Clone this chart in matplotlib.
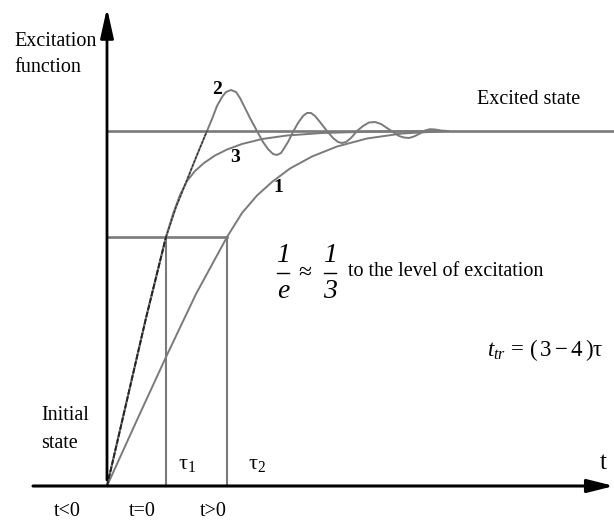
import numpy as np
import matplotlib.pyplot as plt

plt.rcParams['font.family'] = ['Liberation Serif', 'DejaVu Serif']
plt.rcParams['mathtext.fontset'] = 'custom'
plt.rcParams['mathtext.rm'] = 'Liberation Serif'
plt.rcParams['mathtext.it'] = 'Liberation Serif:italic'

# уровни возбуждения и постоянные времени
excited_level = 355
low_level = 249
tau1 = 59
tau2 = 120

# кривая 1 (апериодическая, медленная)
t1 = [0, 30, 59, 89, 120, 135, 150, 165, 183, 205, 230, 260, 295, 341]
y1 = [0, 66, 129, 192, 249, 273, 290.5, 304, 317.5, 329.5, 339.5, 347.5, 352.5, 355]

# кривая 3 (апериодическая, быстрая)
t3 = [0, 20, 39, 59, 66, 73, 80, 88, 97, 108, 120, 135, 155, 180, 215, 270, 341]
y3 = [0, 86, 168, 249, 272, 291, 305, 315, 323, 330.5, 336.5, 342, 347, 350.5,
      353, 354.5, 355]

# кривая 2 (колебательная)
t2 = [0, 20, 39, 59, 69, 80, 90, 100, 105, 110, 115, 119, 124, 129, 133, 137,
      143, 150, 156, 161, 166, 170, 174, 176, 181, 186, 191, 196, 200, 204,
      208, 213, 220, 226, 231, 235, 239, 244, 250, 256, 262, 268, 274, 280,
      286, 292, 297, 302, 307, 312, 318, 323, 328, 334, 341]
y2 = [0, 86, 168, 249, 279, 306, 331, 355, 367, 380, 389, 394, 396, 394, 388,
      380, 368, 355, 344, 337, 332, 331, 333, 336, 344, 354, 363, 370, 373,
      373, 370, 364, 355, 348, 344, 343, 344, 348, 355, 360, 363.5, 364, 362,
      358, 354, 350, 348.5, 348, 349.5, 352, 355.5, 356.8, 356.5, 355.5, 355]

fig = plt.figure(figsize=(6.14, 5.21), dpi=100)
ax = fig.add_axes([0, 0, 1, 1])
ax.set_xlim(-107, 507)
ax.set_ylim(-35, 486)
ax.axis('off')

gray = '#7a7a7a'

# уровни
ax.plot([0, 507], [excited_level, excited_level], color=gray, lw=1.9)
ax.plot([0, tau2], [low_level, low_level], color=gray, lw=1.9)
ax.plot([tau1, tau1], [0, low_level], color=gray, lw=1.5)
ax.plot([tau2, tau2], [0, low_level], color=gray, lw=1.5)

# кривые
ax.plot(t1, y1, color=gray, lw=1.4)
ax.plot(t3, y3, color=gray, lw=1.4)
ax.plot(t2, y2, color=gray, lw=1.4)
ax.plot(t2[:4], y2[:4], color='#222222', lw=1.3, ls=(0, (3, 1)))
ax.plot(t2[3:8], y2[3:8], color='#333333', lw=1.0, ls=(0, (2, 1)))

# оси
ax.annotate('', xy=(0, 478), xytext=(0, 6),
            arrowprops=dict(arrowstyle='-|>,head_length=18,head_width=4',
                            mutation_scale=1, color='k', lw=2, shrinkA=0, shrinkB=0))
ax.annotate('', xy=(507, 0), xytext=(-74, 0),
            arrowprops=dict(arrowstyle='-|>,head_length=16,head_width=4',
                            mutation_scale=1, color='k', lw=2.2, shrinkA=0, shrinkB=0))

fs = 14.5
ax.text(-93, 444, 'Excitation', fontsize=fs, va='center', ha='left')
ax.text(-93, 418, 'function', fontsize=fs, va='center', ha='left')
ax.text(422, 387, 'Excited state', fontsize=fs, va='center', ha='center')
ax.text(-66, 71, 'Initial', fontsize=fs, va='center', ha='left')
ax.text(-66, 43, 'state', fontsize=fs, va='center', ha='left')
ax.text(496, 23, 't', fontsize=18, va='center', ha='center')
ax.text(80, 21, r'$\mathrm{\tau_1}$', fontsize=16, va='center', ha='center')
ax.text(150, 21, r'$\mathrm{\tau_2}$', fontsize=16, va='center', ha='center')
for x, s in zip([-40, 35, 106], ['t<0', 't=0', 't>0']):
    ax.text(x, -26, s, fontsize=fs, va='center', ha='center')

# номера кривых
ax.text(110, 397, '2', fontsize=14, fontweight='bold', va='center', ha='center')
ax.text(128, 329, '3', fontsize=14, fontweight='bold', va='center', ha='center')
ax.text(171, 298, '1', fontsize=14, fontweight='bold', va='center', ha='center')

# 1/e ≈ 1/3
for xc, num, den in [(176, '1', 'e'), (223, '1', '3')]:
    ax.text(xc, 230, num, fontsize=20, style='italic', va='center', ha='center')
    ax.text(xc, 195, den, fontsize=20, style='italic', va='center', ha='center')
    ax.plot([xc - 6, xc + 6], [213, 213], color='k', lw=1.0)
ax.text(198, 213, '≈', fontsize=17, va='center', ha='center')
ax.text(241, 214, 'to the level of excitation', fontsize=fs, va='center', ha='left')

ax.text(380, 136, r'$t_{tr}\,=\,(\,\mathit{3}-\mathit{4}\,)\mathrm{\tau}$', fontsize=16.5,
        va='center', ha='left')

fig.savefig('out.png', dpi=100)
